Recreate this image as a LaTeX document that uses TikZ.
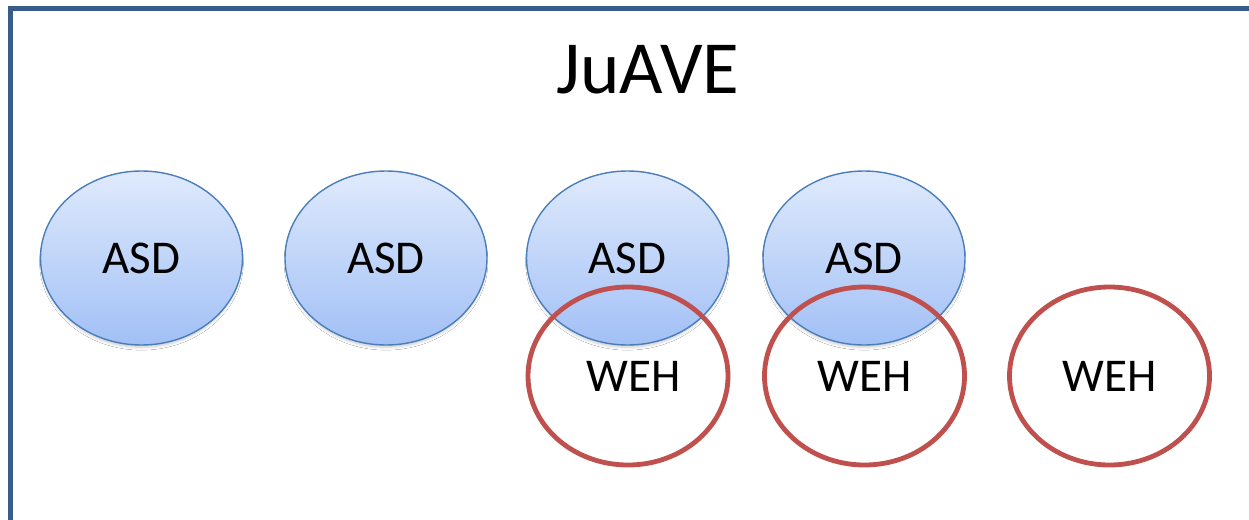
\documentclass[tikz,border=0pt]{standalone}
\usepackage{fontspec}
\setmainfont{Carlito}
\usetikzlibrary{shapes.geometric,shadows.blur}
\definecolor{framecol}{HTML}{385D8A}
\definecolor{asdtop}{HTML}{DFEAFC}
\definecolor{asdbot}{HTML}{A2C0F6}
\definecolor{asdline}{HTML}{4A7EBB}
\definecolor{wehline}{HTML}{C0504D}
\tikzset{
  asd/.style={ellipse, draw=asdline, line width=1.4pt, top color=asdtop, bottom color=asdbot,
    minimum width=202pt, minimum height=174pt, inner sep=0pt,
    blur shadow={shadow xshift=0pt, shadow yshift=-4pt, shadow scale=0.98, shadow blur radius=3pt, shadow opacity=22},
    font=\fontsize{47}{47}\selectfont},
  weh/.style={ellipse, draw=wehline, line width=4.8pt, fill=none,
    minimum width=200pt, minimum height=178pt, inner sep=0pt,
    font=\fontsize{47}{47}\selectfont},
  frameline/.style={draw=framecol, line width=5pt},
}
\begin{document}
\begin{tikzpicture}[x=1pt, y=-1pt]
  \useasboundingbox (0,0) rectangle (1249,519);
  \fill[white] (0,0) rectangle (1249,519);
  % frame: left and top edges
  \coordinate (fbl) at (10.5,522);
  \coordinate (ftl) at (10.5,8.5);
  \coordinate (ftr) at (1252,8.5);
  \draw[frameline] (fbl) -- (ftl) -- (ftr);
  % title
  \node (title) at (648,70) {\fontsize{75}{75}\selectfont JuAVE};
  % ASD ellipses
  \node[asd] (a1) at (141.5,258) {ASD};
  \node[asd] (a2) at (386,258) {ASD};
  \node[asd] (a3) at (627.5,258) {ASD};
  \node[asd] (a4) at (864,258) {ASD};
  % WEH rings
  \node[weh] (w1) at (628,376) {\hspace*{12pt}WEH};
  \node[weh] (w2) at (864.5,376) {WEH};
  \node[weh] (w3) at (1109.5,376) {WEH};
\end{tikzpicture}
\end{document}
